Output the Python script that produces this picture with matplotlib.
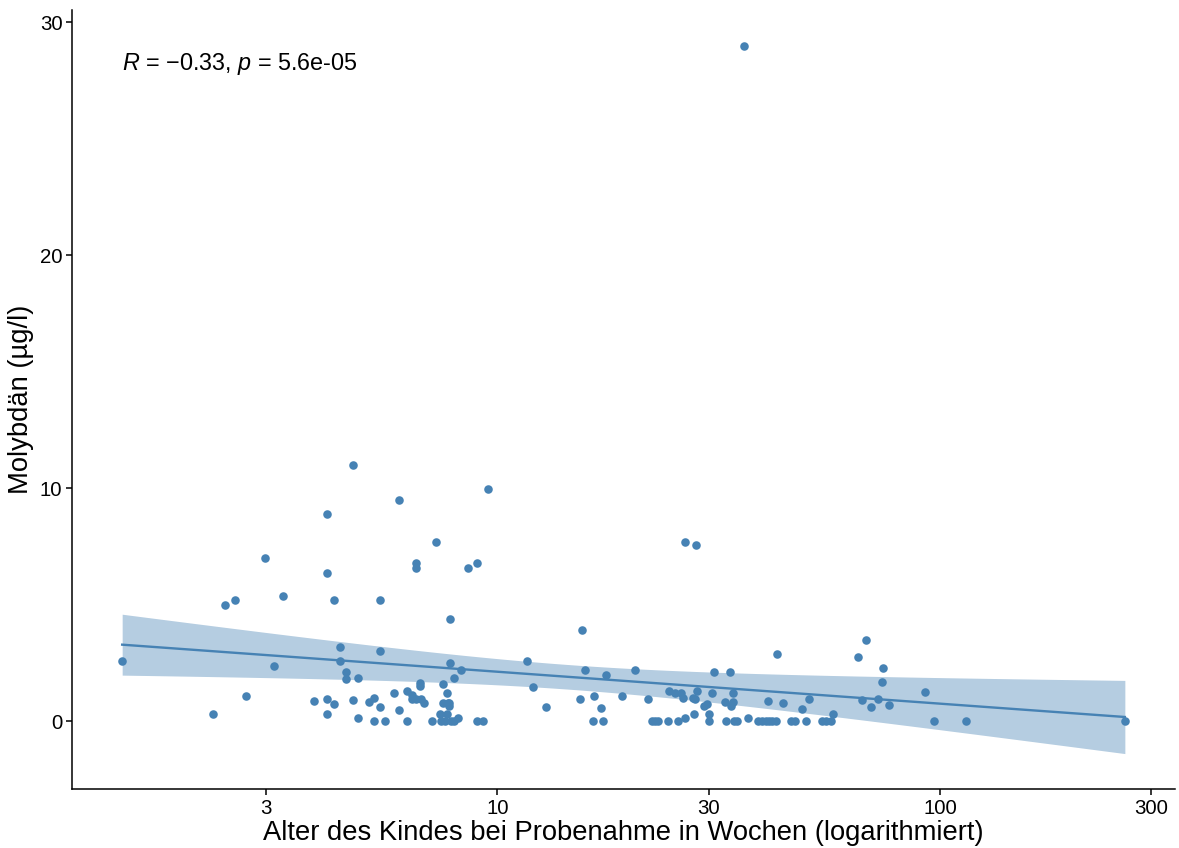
import numpy as np
import matplotlib
matplotlib.use("Agg")
import matplotlib.pyplot as plt
from matplotlib.ticker import FixedLocator, NullLocator

plt.rcParams['font.family'] = ['Liberation Sans', 'DejaVu Sans']
plt.rcParams['mathtext.fontset'] = 'custom'
plt.rcParams['mathtext.rm'] = 'Liberation Sans'
plt.rcParams['mathtext.it'] = 'Liberation Sans:italic'

# Alter in Wochen / Molybdän (µg/l)
weeks_a = [1.42, 2.28, 2.42, 2.56, 2.71, 2.99, 3.13, 3.28, 3.85, 4.13, 4.13, 4.13, 4.13,
           4.28, 4.28, 4.40, 4.40, 4.56, 4.56, 4.71, 4.71, 4.85, 4.85, 5.12, 5.27, 5.27,
           5.42, 5.42, 5.42, 5.56, 5.85, 5.99, 5.99, 6.26, 6.26, 6.41, 6.41, 6.55, 6.55,
           6.55, 6.70, 6.70, 6.72, 6.84, 7.12, 7.27, 7.41, 7.46, 7.53, 7.53, 7.62, 7.70,
           7.70, 7.72, 7.79, 7.79, 7.83, 7.83, 7.86, 7.97, 8.00, 8.14, 8.28, 8.57, 8.98,
           8.98, 9.26, 9.54]
moly_a = [2.57, 0.30, 4.99, 5.18, 1.09, 6.98, 2.37, 5.39, 0.86, 8.87, 6.37, 0.97, 0.30,
          5.18, 0.74, 3.19, 2.57, 2.12, 1.79, 10.99, 0.92, 1.87, 0.13, 0.83, 0.99, 0.0,
          5.18, 2.99, 0.62, 0.0, 1.20, 9.50, 0.50, 1.29, 0.0, 1.14, 0.96, 6.80, 6.59,
          0.93, 1.64, 1.53, 0.93, 0.76, 0.0, 7.70, 0.32, 0.0, 1.60, 0.79, 0.0, 1.22,
          0.32, 0.79, 0.79, 0.64, 4.37, 2.50, 0.0, 1.86, 0.0, 0.14, 2.19, 6.59, 6.80,
          0.0, 0.0, 9.97]

weeks_b = [11.69, 12.02, 12.85, 15.38, 15.56, 15.81, 16.41, 16.52, 17.10, 17.28, 17.56,
           19.14, 20.41, 21.85, 22.3, 22.7, 23.1, 24.3, 24.4, 25.2, 25.6, 26.0, 26.3,
           26.6, 26.6, 27.6, 27.8, 28.0, 28.1, 28.3, 29.3, 29.8, 30.0, 30.0, 30.5, 30.9,
           32.6, 32.9, 33.5, 33.8, 34.0, 34.1, 34.2, 34.7, 36.1, 36.8, 38.7, 39.7, 40.4,
           40.9, 41.1, 41.8, 42.7, 42.8, 44.3, 46.0, 47.0, 48.8, 49.7, 50.7, 54.2, 55.3,
           56.6, 57.4, 65.4, 66.8, 68.0, 70.0, 72.4, 73.8, 74.3, 76.5, 92.4, 97.0, 114.3,
           261.6]
moly_b = [2.57, 1.47, 0.62, 0.94, 3.90, 2.19, 0.0, 1.09, 0.57, 0.0, 1.99,
          1.09, 2.19, 0.96, 0.0, 0.0, 0.0, 0.0, 1.29, 1.22, 0.0, 1.22, 0.99,
          7.70, 0.14, 0.99, 0.32, 0.96, 7.58, 1.29, 0.67, 0.74, 0.32, 0.0, 1.22, 2.10,
          0.83, 0.0, 2.10, 0.67, 1.22, 0.83, 0.0, 0.0, 28.99, 0.14, 0.0, 0.0, 0.0,
          0.86, 0.0, 0.0, 0.0, 2.89, 0.79, 0.0, 0.0, 0.53, 0.0, 0.97, 0.0, 0.0,
          0.0, 0.32, 2.77, 0.92, 3.48, 0.62, 0.97, 1.67, 2.29, 0.69, 1.27, 0.0, 0.0,
          0.0]

xticks = [3, 10, 30, 100, 300]
yticks = [0, 10, 20, 30]
label = r"$\it{R}$ = $-$0.33, $\it{p}$ = 5.6e-05"
col = "steelblue"

x = np.array(weeks_a + weeks_b)
y = np.array(moly_a + moly_b)

# lineare Regression auf log10(x) mit 95%-Konfidenzband
lx = np.log10(x)
n = len(x)
slope, icpt = np.polyfit(lx, y, 1)
resid = y - (icpt + slope * lx)
s = np.sqrt(np.sum(resid ** 2) / (n - 2))
sxx = np.sum((lx - lx.mean()) ** 2)
grid = np.linspace(lx.min(), lx.max(), 80)
fit = icpt + slope * grid
se = s * np.sqrt(1 / n + (grid - lx.mean()) ** 2 / sxx)
t = 1.976
lo, hi = fit - t * se, fit + t * se

fig = plt.figure(figsize=(11.79, 8.48), dpi=100)
ax = fig.add_axes([0.0611, 0.0696, 0.9355, 0.9184])

ax.fill_between(10 ** grid, lo, hi, color=col, alpha=0.4, linewidth=0, zorder=1)
ax.plot(10 ** grid, fit, color=col, linewidth=1.7, zorder=2)
ax.scatter(x, y, s=38, color=col, linewidths=0, zorder=3)

ax.set_xscale('log')
pad = 0.05 * (lx.max() - lx.min())
ax.set_xlim(10 ** (lx.min() - pad), 10 ** (lx.max() + pad))
ymin, ymax = min(y.min(), lo.min()), max(y.max(), hi.max())
ypad = 0.05 * (ymax - ymin)
ax.set_ylim(ymin - ypad, ymax + ypad)

ax.xaxis.set_major_locator(FixedLocator(xticks))
ax.xaxis.set_minor_locator(NullLocator())
ax.set_xticklabels([str(v) for v in xticks])
ax.set_yticks(yticks)

ax.text(x.min(), 28.2, label, fontsize=16.8, ha='left', va='center')

for side in ['top', 'right']:
    ax.spines[side].set_visible(False)
for side in ['left', 'bottom']:
    ax.spines[side].set_linewidth(1.1)
ax.tick_params(length=4, width=1.1, labelsize=14.7, color='black', labelcolor='black', pad=3)

ax.set_xlabel("Alter des Kindes bei Probenahme in Wochen (logarithmiert)", fontsize=19.7, labelpad=2)
ax.set_ylabel("Molybdän (µg/l)", fontsize=19.7, labelpad=4)

print(slope, icpt, np.corrcoef(lx, y)[0, 1])
fig.savefig("out.png", dpi=100)
